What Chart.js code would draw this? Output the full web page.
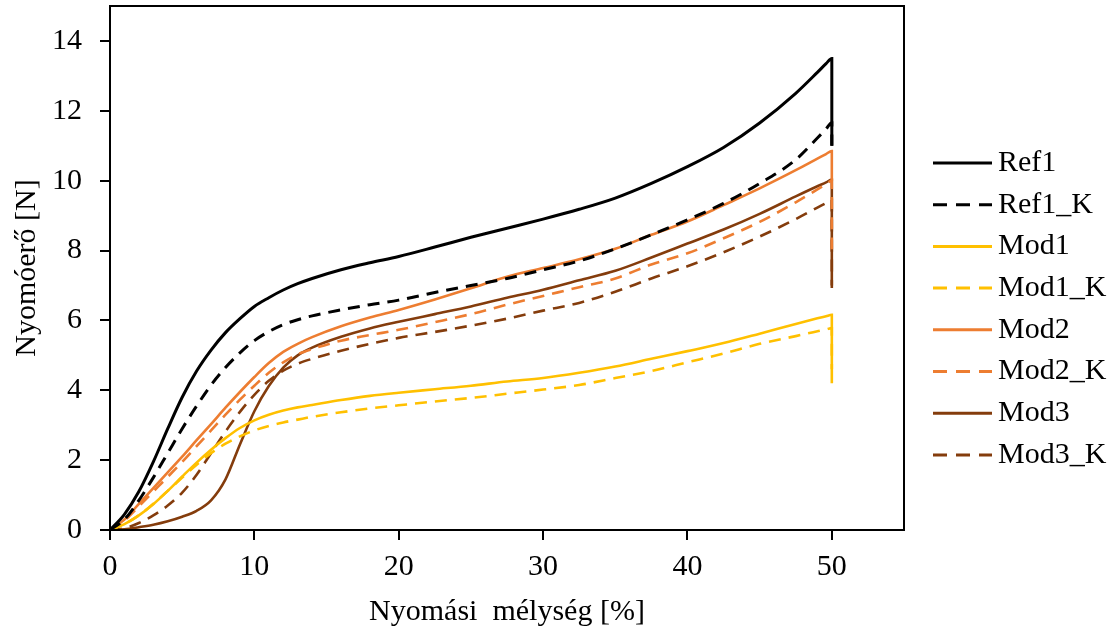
<!DOCTYPE html>
<html lang="hu">
<head>
<meta charset="utf-8">
<title>Nyomóerő</title>
<script src="https://cdn.jsdelivr.net/npm/chart.js@4/dist/chart.umd.min.js"></script>
<style>
  html, body { margin: 0; padding: 0; background: #fff; }
  #wrap { width: 1120px; height: 630px; }
</style>
</head>
<body>
<div id="wrap"><canvas id="grafikon" width="1120" height="630"></canvas></div>
<script>
// nyomási mélység [%] - az utolsó pont a leterhelés (függőleges esés 50%-nál)
const melyseg = [0, 1, 2, 3, 4, 5, 6, 7, 8, 9, 10, 11, 12, 13, 14, 16, 18, 20,
  22.5, 25, 27.5, 30, 32.5, 35, 37.5, 40, 42.5, 45, 47.5, 49, 49.6, 50, 50];

// nyomóerő [N]
const ref1   = [0, 0.45, 1.1, 1.95, 2.9, 3.8, 4.55, 5.15, 5.65, 6.05, 6.4, 6.65, 6.87, 7.05, 7.2, 7.45, 7.65, 7.83,
  8.1, 8.38, 8.64, 8.9, 9.18, 9.5, 9.92, 10.4, 10.95, 11.65, 12.5, 13.1, 13.35, 13.5, 11.0];
const ref1K  = [0, 0.3, 0.85, 1.5, 2.2, 2.9, 3.55, 4.15, 4.65, 5.07, 5.42, 5.68, 5.88, 6.02, 6.13, 6.3, 6.45, 6.58,
  6.8, 7.0, 7.2, 7.45, 7.7, 8.05, 8.45, 8.88, 9.35, 9.92, 10.6, 11.22, 11.48, 11.66, 11.0];
const mod1   = [0, 0.17, 0.42, 0.74, 1.12, 1.53, 1.93, 2.3, 2.63, 2.92, 3.14, 3.3, 3.42, 3.51, 3.58, 3.72, 3.84, 3.93,
  4.03, 4.13, 4.25, 4.35, 4.5, 4.68, 4.9, 5.12, 5.35, 5.62, 5.9, 6.06, 6.12, 6.16, 4.2];
const mod1K  = [0, 0.17, 0.42, 0.75, 1.12, 1.5, 1.87, 2.2, 2.47, 2.68, 2.85, 2.98, 3.08, 3.16, 3.24, 3.37, 3.48, 3.57,
  3.68, 3.78, 3.9, 4.02, 4.15, 4.35, 4.55, 4.8, 5.05, 5.33, 5.55, 5.69, 5.74, 5.78, 4.6];
const mod2   = [0, 0.3, 0.75, 1.2, 1.65, 2.1, 2.57, 3.03, 3.5, 3.95, 4.38, 4.78, 5.1, 5.33, 5.52, 5.83, 6.08, 6.3,
  6.6, 6.92, 7.25, 7.5, 7.75, 8.05, 8.45, 8.83, 9.3, 9.78, 10.3, 10.63, 10.76, 10.85, 10.0];
const mod2K  = [0, 0.27, 0.68, 1.1, 1.52, 1.95, 2.4, 2.85, 3.3, 3.73, 4.13, 4.5, 4.8, 5.03, 5.18, 5.42, 5.58, 5.73,
  5.95, 6.18, 6.45, 6.7, 6.95, 7.2, 7.6, 7.92, 8.35, 8.82, 9.38, 9.75, 9.9, 10.0, 8.0];
const mod3   = [0, 0.02, 0.08, 0.15, 0.25, 0.38, 0.55, 0.85, 1.45, 2.45, 3.4, 4.12, 4.65, 5.0, 5.22, 5.53, 5.77, 5.96,
  6.18, 6.4, 6.65, 6.88, 7.15, 7.42, 7.8, 8.2, 8.6, 9.05, 9.55, 9.84, 9.95, 10.03, 6.93];
const mod3K  = [0, 0.05, 0.2, 0.42, 0.7, 1.07, 1.58, 2.2, 2.82, 3.38, 3.87, 4.27, 4.56, 4.76, 4.9, 5.13, 5.33, 5.5,
  5.67, 5.85, 6.05, 6.28, 6.5, 6.82, 7.2, 7.55, 7.95, 8.4, 8.9, 9.23, 9.36, 9.45, 7.0];

const nevek = ['Ref1', 'Ref1_K', 'Mod1', 'Mod1_K', 'Mod2', 'Mod2_K', 'Mod3', 'Mod3_K'];
const sorok = [ref1, ref1K, mod1, mod1K, mod2, mod2K, mod3, mod3K];
const szinek = ['#000000', '#000000', '#FFC000', '#FFC000', '#ED7D31', '#ED7D31', '#843C0C', '#843C0C'];

const betu = '"Liberation Serif", "Times New Roman", serif';
Chart.defaults.font.family = betu;
Chart.defaults.font.size = 30;
Chart.defaults.color = '#000';

const datasets = sorok.map((sor, i) => ({
  label: nevek[i],
  data: melyseg.map((x, j) => ({ x: x, y: sor[j] })),
  borderColor: szinek[i],
  borderWidth: i < 2 ? 3 : 2.6,
  borderDash: i % 2 ? [12, 8] : [],
  pointRadius: 0,
  fill: false,
  cubicInterpolationMode: 'monotone'
}));

// keret a rajzterület körül
const keret = {
  id: 'keret',
  afterDraw(chart) {
    const { ctx, chartArea: a } = chart;
    ctx.save();
    ctx.strokeStyle = '#000';
    ctx.lineWidth = 2;
    ctx.strokeRect(a.left, a.top, a.right - a.left, a.bottom - a.top);
    ctx.restore();
  }
};

// jelmagyarázat jobb oldalon
const jelmagyarazat = {
  id: 'jelmagyarazat',
  afterDraw(chart) {
    const ctx = chart.ctx;
    const x0 = chart.chartArea.right + 29;
    ctx.save();
    ctx.font = '30px ' + betu;
    ctx.textBaseline = 'middle';
    ctx.fillStyle = '#000';
    chart.data.datasets.forEach((ds, i) => {
      const y = 163 + i * 41.7;
      ctx.beginPath();
      ctx.strokeStyle = ds.borderColor;
      ctx.lineWidth = 3;
      ctx.setLineDash(ds.borderDash.length ? [14, 9] : []);
      ctx.moveTo(x0, y);
      ctx.lineTo(x0 + 59, y);
      ctx.stroke();
      ctx.fillText(ds.label, x0 + 65, y);
    });
    ctx.restore();
  }
};

new Chart(document.getElementById('grafikon'), {
  type: 'line',
  data: { datasets },
  options: {
    responsive: false,
    animation: false,
    layout: { padding: { top: 6, right: 216, left: 0, bottom: 0 } },
    plugins: {
      legend: { display: false },
      tooltip: { enabled: false }
    },
    scales: {
      x: {
        type: 'linear',
        min: 0,
        max: 55,
        afterFit: s => { s.height = 100; s.paddingLeft = 0; s.paddingRight = 0; },
        ticks: { stepSize: 10, includeBounds: false, padding: 9 },
        grid: { drawOnChartArea: false, tickLength: 10, color: '#000', lineWidth: 2 },
        border: { color: '#000', width: 2 },
        title: { display: true, text: 'Nyomási  mélység [%]', padding: 0 }
      },
      y: {
        min: 0,
        max: 15,
        afterFit: s => { s.width = 110; s.paddingTop = 0; s.paddingBottom = 0; },
        ticks: { stepSize: 2, includeBounds: false, padding: 18 },
        grid: { drawOnChartArea: false, tickLength: 10, color: '#000', lineWidth: 2 },
        border: { color: '#000', width: 2 },
        title: { display: true, text: 'Nyomóerő [N]', padding: { top: 9, bottom: 0 } }
      }
    }
  },
  plugins: [keret, jelmagyarazat]
});
</script>
</body>
</html>
